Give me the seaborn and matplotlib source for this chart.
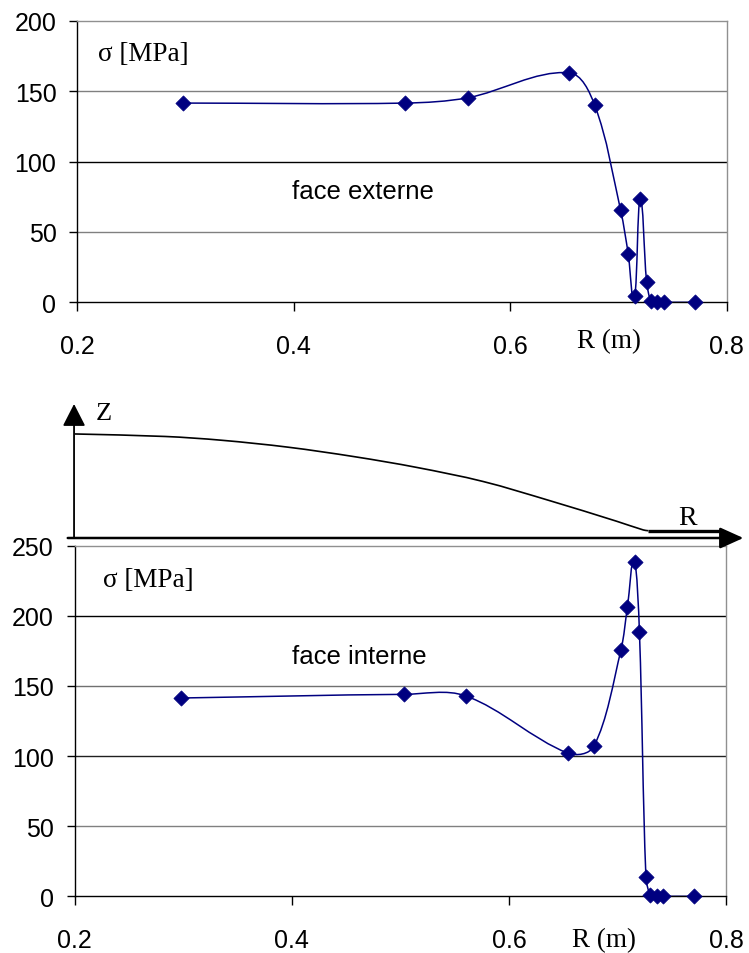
import numpy as np
import matplotlib
matplotlib.use("Agg")
import matplotlib.pyplot as plt
from matplotlib.path import Path
from matplotlib.patches import PathPatch
import seaborn as sns

# ---------------- data ----------------
R_ext = [0.298, 0.503, 0.561, 0.654, 0.678, 0.702, 0.709, 0.715, 0.720, 0.726, 0.730, 0.736, 0.742, 0.771]
sigma_ext = [141.5, 141.5, 145.3, 163.1, 140.1, 65.3, 34.6, 4.3, 73.4, 14.7, 1.0, 0.0, 0.0, 0.0]

R_int = [0.298, 0.503, 0.560, 0.654, 0.678, 0.703, 0.709, 0.7155, 0.720, 0.726, 0.730, 0.736, 0.742, 0.770]
sigma_int = [141.4, 144.0, 142.9, 102.1, 106.9, 175.7, 206.4, 238.3, 188.6, 13.8, 1.2, 0.0, 0.0, 0.0]

x_ticks = [0.2, 0.4, 0.6, 0.8]
x_tick_labels = ["0.2", "0.4", "0.6", "0.8"]
y_ticks_ext = [0, 50, 100, 150, 200]
y_ticks_int = [0, 50, 100, 150, 200, 250]

# schematic dome profile (R, Z) between the two charts
R_profile = [0.2, 0.2831, 0.3354, 0.3967, 0.4581, 0.5149, 0.5762, 0.6377, 0.6991, 0.7236, 0.7282]
Z_profile = [0.0958, 0.0935, 0.0900, 0.0836, 0.0748, 0.0650, 0.0520, 0.0343, 0.0154, 0.0074, 0.0067]
R_flat_end = 0.7972

# ---------------- style ----------------
sns.set_theme(style="white")
plt.rcParams["font.family"] = ["Liberation Sans", "DejaVu Sans"]
NAVY = "#000080"
SERIF = ["Liberation Serif", "DejaVu Serif"]

W, H = 749, 954
fig = plt.figure(figsize=(W / 100, H / 100), dpi=100)
fig.patch.set_facecolor("white")


def px_axes(left, top, right, bottom):
    return fig.add_axes([left / W, 1 - bottom / H, (right - left) / W, (bottom - top) / H])


def smooth_path(ax, x, y):
    """Excel-like smoothed line: cubic Bezier through the data points,
    tangents computed in display space with chord-length scaling,
    handles limited so the curve does not fold back in x."""
    pts = ax.transData.transform(np.column_stack([x, y]))
    n = len(pts)
    tang = []
    for i in range(n):
        a = pts[max(i - 1, 0)]
        b = pts[min(i + 1, n - 1)]
        d = b - a
        nrm = np.hypot(*d)
        tang.append(d / nrm if nrm > 0 else np.zeros(2))
    verts = [pts[0]]
    codes = [Path.MOVETO]
    for i in range(n - 1):
        p1, p2 = pts[i], pts[i + 1]
        L = np.hypot(*(p2 - p1))
        dx = abs(p2[0] - p1[0])
        h1 = tang[i] * L / 3.0
        h2 = -tang[i + 1] * L / 3.0
        lim = 0.5 * dx
        if abs(h1[0]) > lim and abs(h1[0]) > 0:
            h1 = h1 * lim / abs(h1[0])
        if abs(h2[0]) > lim and abs(h2[0]) > 0:
            h2 = h2 * lim / abs(h2[0])
        verts += [p1 + h1, p2 + h2, p2]
        codes += [Path.CURVE4] * 3
    verts = ax.transData.inverted().transform(np.array(verts))
    return Path(verts, codes)


def style_chart(ax, yticks, ymax, grid_colors):
    ax.set_xlim(0.2, 0.8)
    ax.set_ylim(0, ymax)
    ax.set_xticks(x_ticks)
    ax.set_xticklabels(x_tick_labels)
    ax.set_yticks(yticks)
    ax.set_yticklabels([str(v) for v in yticks])
    ax.set_facecolor("white")
    ax.set_xlabel("")
    ax.set_ylabel("")
    for s in ["left", "bottom"]:
        ax.spines[s].set_color("black")
        ax.spines[s].set_linewidth(1.0)
    for s in ["top", "right"]:
        ax.spines[s].set_color("#909090")
        ax.spines[s].set_linewidth(1.0)
    ax.tick_params(axis="x", direction="out", length=6.5, width=1, color="black",
                   pad=16, labelsize=18, labelcolor="black", bottom=True)
    ax.tick_params(axis="y", direction="out", length=5.5, width=1, color="black",
                   pad=9.5, labelsize=18, labelcolor="black", left=True)
    for v, c in grid_colors.items():
        ax.axhline(v, color=c, lw=1.0, zorder=0.5)


def draw_series(ax, x, y):
    path = smooth_path(ax, x, y)
    ax.add_patch(PathPatch(path, facecolor="none", edgecolor=NAVY, lw=1.1, zorder=2))
    sns.scatterplot(x=x, y=y, ax=ax, marker="D", s=60, color=NAVY, edgecolor=NAVY,
                    linewidth=0.5, zorder=3, clip_on=False, legend=False)


# ---------------- top chart : face externe ----------------
ax1 = px_axes(77.3, 21.7, 726.7, 303.3)
style_chart(ax1, y_ticks_ext, 200, {50: "#808080", 100: "#000000", 150: "#808080"})
draw_series(ax1, R_ext, sigma_ext)
ax1.text(0.032, 0.860, "σ [MPa]", transform=ax1.transAxes, family=SERIF, size=19.5,
         ha="left", va="baseline", color="black")
ax1.text(0.44, 0.370, "face externe", transform=ax1.transAxes, size=18.5,
         ha="center", va="baseline", color="black")
ax1.text(0.818, -0.159, "R (m)", transform=ax1.transAxes, family=SERIF, size=19.5,
         ha="center", va="baseline", color="black")

# ---------------- bottom chart : face interne ----------------
ax2 = px_axes(74.7, 546.7, 726.3, 897.3)
style_chart(ax2, y_ticks_int, 250, {50: "#808080", 100: "#202020", 150: "#707070", 200: "#000000"})
draw_series(ax2, R_int, sigma_int)
ax2.text(0.043, 0.886, "σ [MPa]", transform=ax2.transAxes, family=SERIF, size=19.5,
         ha="left", va="baseline", color="black")
ax2.text(0.437, 0.6654, "face interne", transform=ax2.transAxes, size=18.5,
         ha="center", va="baseline", color="black")
ax2.text(0.812, -0.141, "R (m)", transform=ax2.transAxes, family=SERIF, size=19.5,
         ha="center", va="baseline", color="black")

# ---------------- schematic (R, Z) between the charts ----------------
axm = px_axes(74.7, 395, 726.3, 550)
axm.set_xlim(0.2, 0.8)
axm.set_ylim(-0.01013, 0.1326)
axm.axis("off")
axm.patch.set_alpha(0)

axm.add_patch(PathPatch(smooth_path(axm, R_profile, Z_profile), facecolor="none",
                        edgecolor="black", lw=1.2))
axm.plot([R_profile[-1], R_flat_end], [Z_profile[-1], Z_profile[-1]], color="black", lw=2.4,
         solid_capstyle="butt")
# Z axis
axm.annotate("", xy=(0.1994, 0.1234), xytext=(0.1994, 0.0),
             arrowprops=dict(arrowstyle="-|>,head_length=1.37,head_width=0.7", mutation_scale=10,
                             lw=1.3, color="black", shrinkA=0, shrinkB=0),
             annotation_clip=False)
# R axis
axm.annotate("", xy=(0.8157, 0.0), xytext=(0.1936, 0.0),
             arrowprops=dict(arrowstyle="-|>,head_length=1.44,head_width=0.65", mutation_scale=10,
                             lw=1.8, color="black", shrinkA=0, shrinkB=0),
             annotation_clip=False)
axm.text(0.2272, 0.1096, "Z", family=SERIF, size=19, ha="center", va="baseline", color="black")
axm.text(0.7647, 0.0129, "R", family=SERIF, size=20, ha="center", va="baseline", color="black")

fig.savefig("out.png", dpi=100, facecolor="white")
